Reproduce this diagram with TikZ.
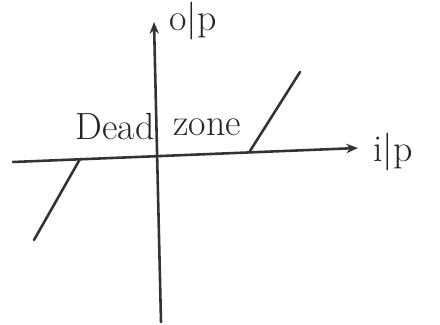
\documentclass[tikz,border=0pt]{standalone}
\usetikzlibrary{arrows.meta,positioning}
\begin{document}
\begin{tikzpicture}[x=0.03cm,y=-0.03cm]
  \tikzset{
    pen/.style={line width=2.2pt, black!80, line cap=round},
    hand/.style={font=\Huge, black!85, inner sep=0pt, scale=1.3}
  }
  \useasboundingbox (0,0) rectangle (440,324);

  % Axes
  \coordinate (xl) at (13,162);
  \coordinate (xr) at (358,148);
  \coordinate (yb) at (161,322);
  \coordinate (yt) at (154,22);
  \draw[pen, -{Stealth[length=10pt,width=8pt]}] (xl) -- (xr);
  \draw[pen, -{Stealth[length=10pt,width=8pt]}] (yb) -- (yt);

  % Axis labels
  \node[hand, anchor=west] (op) at (169,21) {o|p};
  \node[hand, anchor=west] (ip) at (373,152) {i|p};

  % Characteristic outside the dead zone
  \coordinate (dl) at (80,159);
  \coordinate (dlend) at (34,240);
  \coordinate (dr) at (250,151);
  \coordinate (drend) at (300,72);
  \draw[pen] (dl) -- (dlend);
  \draw[pen] (dr) -- (drend);

  % Dead zone label
  \node[hand] (dead) at (115,126) {Dead};
  \node[hand] (zone) at (207,127) {zone};
\end{tikzpicture}
\end{document}
